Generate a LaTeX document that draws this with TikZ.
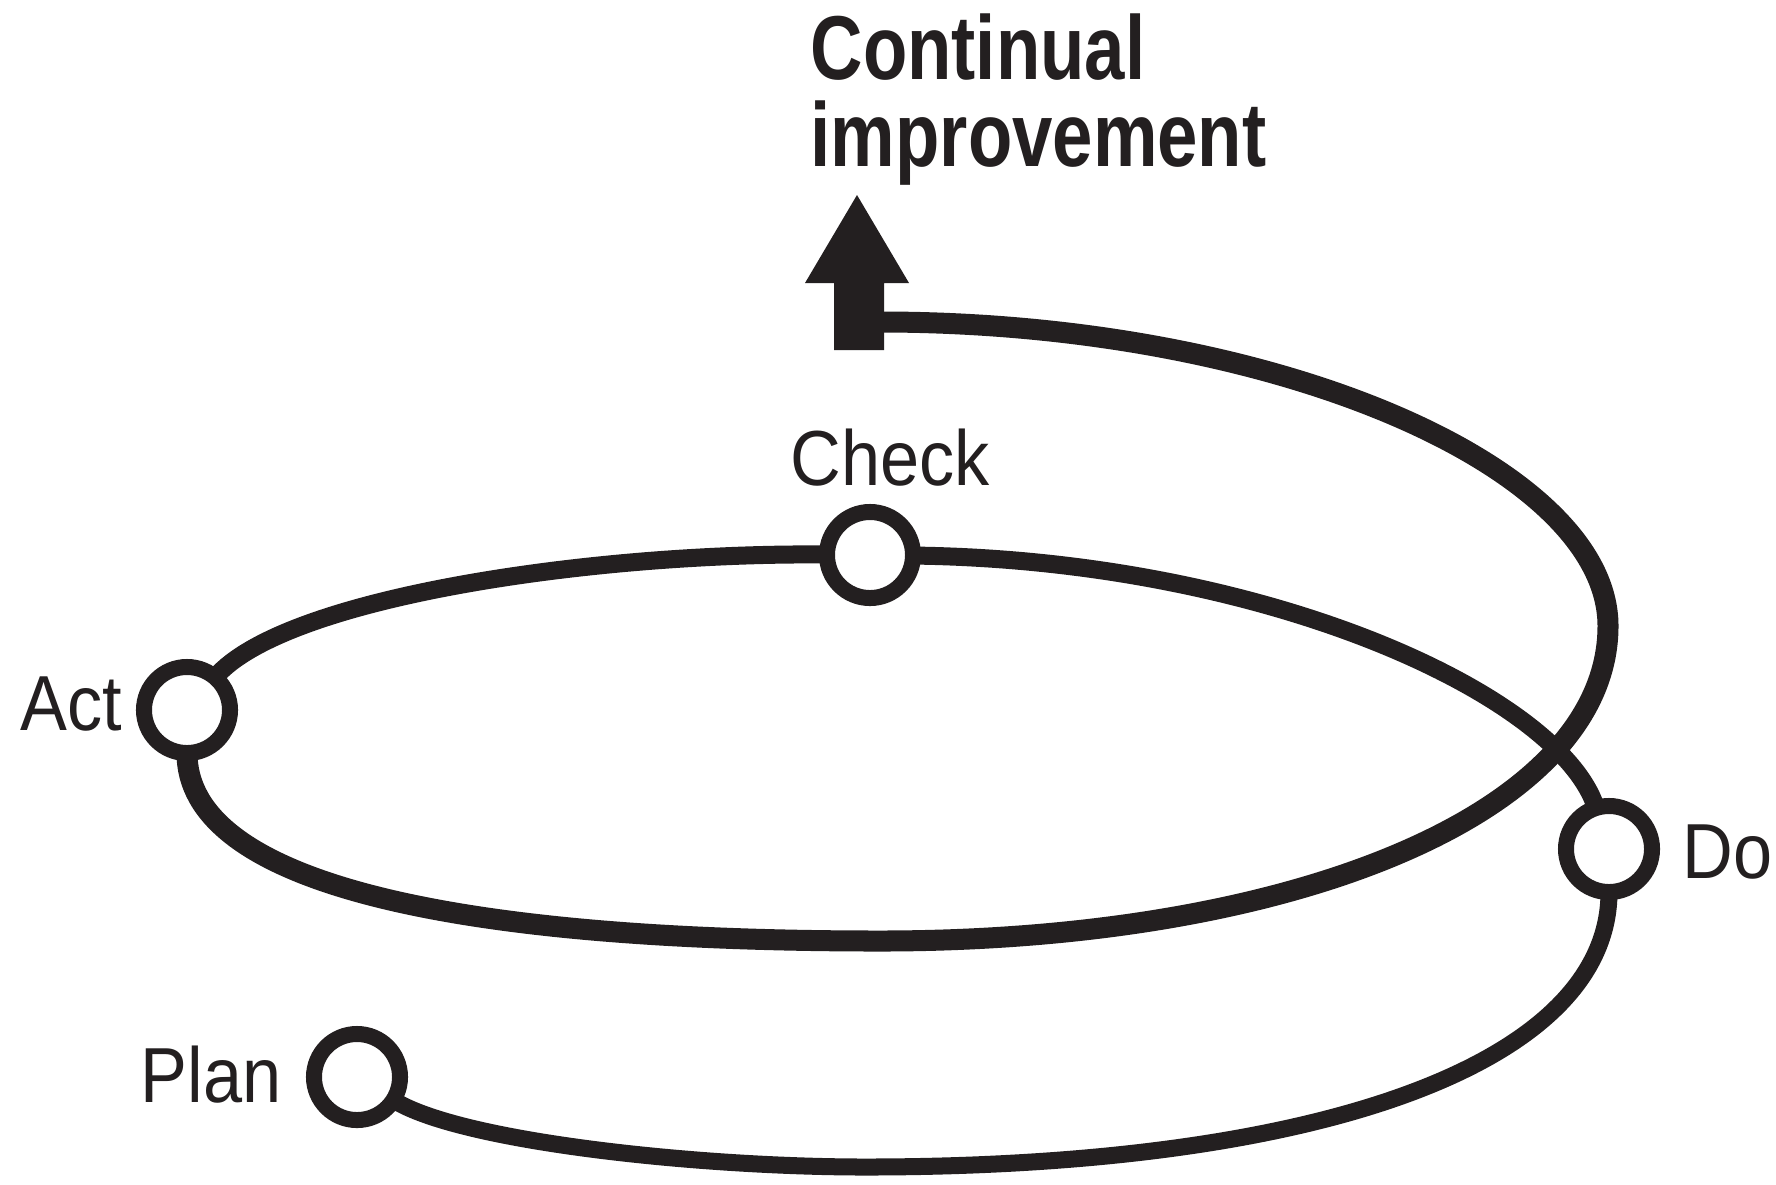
\documentclass[tikz,border=0pt]{standalone}
\usepackage{fontspec}
\setmainfont{Liberation Sans}[FakeStretch=0.9]
\newfontfamily\headfont{Liberation Sans}[FakeStretch=0.8]
\definecolor{ink}{RGB}{35,31,32}
\tikzset{
  stage/.style={circle, draw=ink, fill=white, line width=0.16cm,
    minimum size=0.86cm, inner sep=0pt, outer sep=0pt},
  tag/.style={text=ink, inner sep=0pt, font=\fontsize{22.2}{26}\selectfont},
  headtext/.style={text=ink, inner sep=0pt, align=left,
    font=\headfont\bfseries\fontsize{25.8}{24.75}\selectfont},
  spiral/.style={draw=ink, line width=0.21cm}
}
\begin{document}
\begin{tikzpicture}[x=0.01cm, y=-0.01cm]
      \useasboundingbox (0,0) rectangle (1776,1184);
      % the four stages
      \draw
        (357,1077) node[stage] (plan) {}
        (1609,849) node[stage] (do) {}
        (870,555) node[stage] (check) {}
        (187,710) node[stage] (act) {};
      \coordinate (low1) at (865,1167);
      \coordinate (low2) at (880,941);
      \coordinate (east2) at (1608,626);
      \coordinate (tail) at (884,322);
      % the spiral
      \draw[spiral, line width=0.17cm] (plan) .. controls (460,1142) and (700,1167) .. (low1)
        .. controls (1330,1167) and (1609,1060) .. (do);
      \draw[spiral, line width=0.18cm] (do) .. controls (1561,697) and (1270,560) .. (check);
      \draw[spiral, line width=0.18cm] (check) .. controls (600,552) and (285,596) .. (act);
      \draw[spiral] (act) .. controls (187,880) and (440,941) .. (low2)
        .. controls (1300,941) and (1608,810) .. (east2)
        .. controls (1608,470) and (1283,323) .. (tail);
      % block arrow
      \fill[ink] (834,350) -- (834,283) -- (805,283) -- (857,195)
        -- (909,283) -- (884,283) -- (884,350) -- cycle;
      % labels
      \node[tag, anchor=base east] (plan label) at (282,1102) {Plan};
      \node[tag, anchor=base west] (do label) at (1682,878) {Do};
      \node[tag, anchor=base] (check label) at (890,485) {Check};
      \node[tag, anchor=base east] (act label) at (123,730) {Act};
      \node[headtext, anchor=north west] (goal) at (810,13) {Continual\\improvement};
    \end{tikzpicture}
\end{document}
